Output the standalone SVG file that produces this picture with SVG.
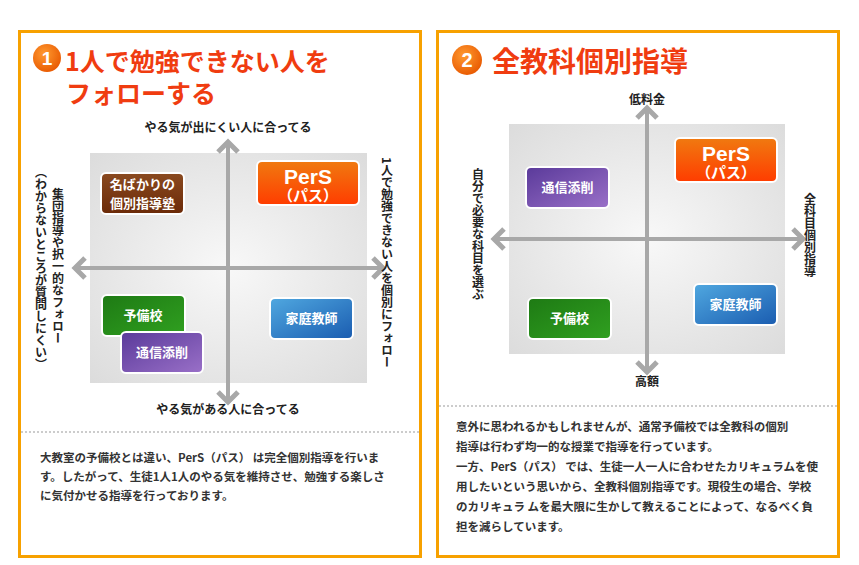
<svg xmlns="http://www.w3.org/2000/svg" width="859" height="565" viewBox="0 0 859 565">
<defs>
<radialGradient id="bg" cx="0.5" cy="0.5" r="0.7"><stop offset="0" stop-color="#f8f8f8"/><stop offset="1" stop-color="#dcdcdc"/></radialGradient>
<linearGradient id="gO" x1="0" y1="0" x2="0" y2="1"><stop offset="0" stop-color="#f07a10"/><stop offset="1" stop-color="#ff3c00"/></linearGradient>
<linearGradient id="gB" x1="0" y1="0" x2="0" y2="1"><stop offset="0" stop-color="#8a4a20"/><stop offset="1" stop-color="#6b2a08"/></linearGradient>
<linearGradient id="gG" x1="0" y1="0" x2="1" y2="1"><stop offset="0" stop-color="#1e7a14"/><stop offset="1" stop-color="#30a020"/></linearGradient>
<linearGradient id="gP" x1="0" y1="0" x2="1" y2="1"><stop offset="0" stop-color="#5a3a9a"/><stop offset="1" stop-color="#9a70c8"/></linearGradient>
<linearGradient id="gL" x1="0" y1="0" x2="1" y2="1"><stop offset="0" stop-color="#50a8e0"/><stop offset="1" stop-color="#1a5cb0"/></linearGradient>
<radialGradient id="gC" cx="0.4" cy="0.35" r="0.7"><stop offset="0" stop-color="#ff9a30"/><stop offset="1" stop-color="#e85800"/></radialGradient>
</defs>
<style>
.panel{fill:#fff;stroke:#f7a100;stroke-width:3}
.box{stroke:#fff;stroke-width:2}
.bt{font-family:"Noto Sans CJK JP",sans-serif;font-weight:bold;fill:#fff;font-size:13px;text-anchor:middle}
.big{font-family:"Liberation Sans",sans-serif;font-size:21px}
.mid{font-size:15px}
.ax{stroke:#a8a8a8;stroke-width:4;fill:none}
.ah{stroke:#a8a8a8;stroke-width:5;fill:none}
.lab{font-family:"Noto Sans CJK JP",sans-serif;font-weight:bold;fill:#222;font-size:12px}
.v{writing-mode:vertical-rl}
.ttl{font-family:"Noto Sans CJK JP",sans-serif;font-weight:bold;fill:#f03c10}
.body{font-family:"Noto Sans CJK JP",sans-serif;font-weight:bold;fill:#333;font-size:11.5px}
.dash{stroke:#999;stroke-width:1;stroke-dasharray:2,2}
</style>
<rect class="panel" x="19.500" y="31.500" width="401" height="525"/>
<rect class="panel" x="437.500" y="31.500" width="401" height="525"/>
<circle cx="47" cy="58" r="14" fill="url(#gC)"/>
<text x="47" y="65" font-family="Liberation Sans,sans-serif" font-weight="bold" font-size="19" fill="#fff" text-anchor="middle">1</text>
<text class="ttl" x="65" y="71" font-size="25">1人で勉強できない人を</text>
<text class="ttl" x="66" y="103" font-size="25">フォローする</text>
<circle cx="467" cy="60" r="15" fill="url(#gC)"/>
<text x="467" y="67" font-family="Liberation Sans,sans-serif" font-weight="bold" font-size="20" fill="#fff" text-anchor="middle">2</text>
<text class="ttl" x="492" y="72" font-size="28">全教科個別指導</text>
<rect x="90" y="153" width="277" height="230" fill="url(#bg)"/>
<rect x="509" y="124" width="276" height="230" fill="url(#bg)"/>
<g id="connectors">
<line class="ax" x1="228" y1="142" x2="228" y2="402"/>
<line class="ax" x1="75" y1="268" x2="383" y2="268"/>
<polyline class="ah" points="218,152 228,142 238,152"/>
<polyline class="ah" points="218,392 228,402 238,392"/>
<polyline class="ah" points="85,258 75,268 85,278"/>
<polyline class="ah" points="373,258 383,268 373,278"/>
<line class="ax" x1="647" y1="108" x2="647" y2="372"/>
<line class="ax" x1="494" y1="239" x2="803" y2="239"/>
<polyline class="ah" points="637,118 647,108 657,118"/>
<polyline class="ah" points="637,362 647,372 657,362"/>
<polyline class="ah" points="504,229 494,239 504,249"/>
<polyline class="ah" points="793,229 803,239 793,249"/>
</g>
<g id="n1-nabakari"><rect class="box" x="101" y="173" width="83" height="41" rx="5" fill="url(#gB)"/><text class="bt" x="142.500" y="189">名ばかりの</text><text class="bt" x="142.500" y="208">個別指導塾</text></g>
<g id="n1-pers"><rect class="box" x="257" y="161" width="102" height="44" rx="5" fill="url(#gO)"/><text class="bt big" x="308" y="184">PerS</text><text class="bt mid" x="308" y="201">（パス）</text></g>
<g id="n1-yobi"><rect class="box" x="102" y="295" width="83" height="41" rx="5" fill="url(#gG)"/><text class="bt" x="143" y="320">予備校</text></g>
<g id="n1-tsushin"><rect class="box" x="121" y="332" width="82" height="41" rx="5" fill="url(#gP)"/><text class="bt" x="162" y="357">通信添削</text></g>
<g id="n1-katei"><rect class="box" x="270" y="298" width="83" height="41" rx="5" fill="url(#gL)"/><text class="bt" x="311.500" y="323">家庭教師</text></g>
<g id="n2-tsushin"><rect class="box" x="526" y="167" width="83" height="41" rx="5" fill="url(#gP)"/><text class="bt" x="567.500" y="192">通信添削</text></g>
<g id="n2-pers"><rect class="box" x="675" y="138" width="102" height="44" rx="5" fill="url(#gO)"/><text class="bt big" x="726" y="161">PerS</text><text class="bt mid" x="726" y="178">（パス）</text></g>
<g id="n2-yobi"><rect class="box" x="528" y="298" width="83" height="41" rx="5" fill="url(#gG)"/><text class="bt" x="569.500" y="323">予備校</text></g>
<g id="n2-katei"><rect class="box" x="694" y="284" width="83" height="41" rx="5" fill="url(#gL)"/><text class="bt" x="735.500" y="309">家庭教師</text></g>
<text class="lab" x="228" y="132" text-anchor="middle">やる気が出にくい人に合ってる</text>
<text class="lab" x="228" y="414" text-anchor="middle">やる気がある人に合ってる</text>
<text class="lab v" x="387" y="157">1人で勉強できない人を個別にフォロー</text>
<text class="lab v" x="58" y="188">集団指導や択一的なフォロー</text>
<text class="lab v" x="41" y="166">（わからないところが質問しにくい）</text>
<text class="lab" x="647" y="104" text-anchor="middle">低料金</text>
<text class="lab" x="647" y="386" text-anchor="middle">高額</text>
<text class="lab v" x="478" y="168">自分で必要な科目を選ぶ</text>
<text class="lab v" x="810" y="193">全科目個別指導</text>
<line class="dash" x1="21" y1="432" x2="419" y2="432"/>
<line class="dash" x1="439" y1="406" x2="837" y2="406"/>
<text class="body" x="40" y="462">大教室の予備校とは違い、PerS（パス） は完全個別指導を行いま</text>
<text class="body" x="40" y="481">す。したがって、生徒1人1人のやる気を維持させ、勉強する楽しさ</text>
<text class="body" x="40" y="500">に気付かせる指導を行っております。</text>
<text class="body" x="456" y="431">意外に思われるかもしれませんが、通常予備校では全教科の個別</text>
<text class="body" x="456" y="451">指導は行わず均一的な授業で指導を行っています。</text>
<text class="body" x="456" y="471">一方、PerS（パス） では、生徒一人一人に合わせたカリキュラムを使</text>
<text class="body" x="456" y="491">用したいという思いから、全教科個別指導です。現役生の場合、学校</text>
<text class="body" x="456" y="511">のカリキュラ ムを最大限に生かして教えることによって、なるべく負</text>
<text class="body" x="456" y="531">担を減らしています。</text>
</svg>
